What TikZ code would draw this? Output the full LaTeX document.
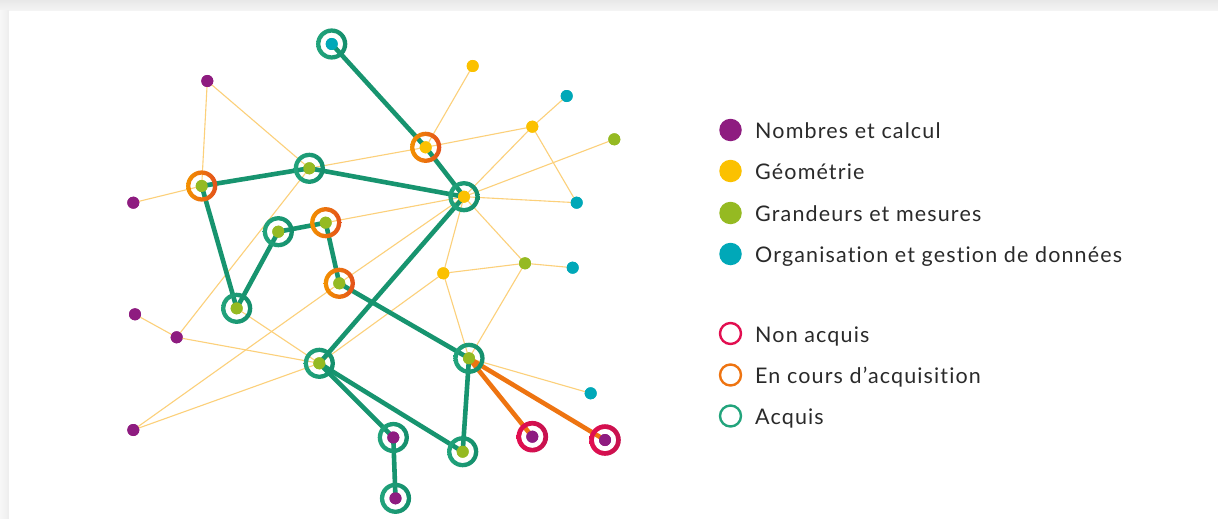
\documentclass[tikz,border=0pt]{standalone}
\usepackage{fontspec}
\setmainfont{Lato}[LetterSpace=5.3,Ligatures=NoCommon]
\definecolor{cP}{HTML}{8E1C80}
\definecolor{cY}{HTML}{FBC100}
\definecolor{cG}{HTML}{95BA22}
\definecolor{cT}{HTML}{00A8B8}
\definecolor{acqA}{HTML}{22A47C}
\definecolor{acqB}{HTML}{148E6C}
\definecolor{acqL}{HTML}{17946F}
\definecolor{oraA}{HTML}{F39100}
\definecolor{oraB}{HTML}{E3501C}
\definecolor{oraL}{HTML}{EE7411}
\definecolor{redA}{HTML}{E20E50}
\definecolor{redB}{HTML}{C5124F}
\definecolor{thinc}{HTML}{FCD07A}
\definecolor{txt}{HTML}{2A2A2A}
\begin{document}
\begin{tikzpicture}[x=1pt,y=-1pt,
  thinl/.style={draw=thinc, line width=1.1pt},
  thickl/.style={draw=acqL, line width=4.6pt},
  orangel/.style={draw=oraL, line width=4.6pt},
  dotn/.style={circle, inner sep=0pt, minimum size=12pt},
  pdot/.style={dotn, fill=cP},
  ydot/.style={dotn, fill=cY},
  gdot/.style={dotn, fill=cG},
  tdot/.style={dotn, fill=cT},
  ldot/.style={circle, inner sep=0pt, minimum size=22.5pt},
  lring/.style={circle, inner sep=0pt, minimum size=21pt, line width=2.4pt},
  ltext/.style={anchor=base west, inner sep=0pt, font=\fontsize{21.5}{24}\selectfont, text=txt}
]
\useasboundingbox (0,0) rectangle (1218,519);
\shade[top color=black!9, bottom color=black!4] (0,0) rectangle (1218,11);
\shade[left color=black!3, right color=black!7] (0,11) rectangle (9,519);
\fill[white] (9,11) rectangle (1218,519);

% nodes (dots), drawn later on top; define coordinates first
\path
  (207.3,81) node[pdot] (P1) {}
  (133.3,202.7) node[pdot] (P2) {}
  (135,314.3) node[pdot] (P3) {}
  (176.7,337.3) node[pdot] (P4) {}
  (133.3,430) node[pdot] (P5) {}
  (393.3,437.5) node[pdot] (P6) {}
  (395.5,498.3) node[pdot] (P7) {}
  (532.3,436.7) node[pdot] (P8) {}
  (605,440) node[pdot] (P9) {}
  (472.7,66) node[ydot] (Y1) {}
  (425.7,147.3) node[ydot] (Y2) {}
  (532.3,126.7) node[ydot] (Y3) {}
  (464,196.7) node[ydot] (Y4) {}
  (443.3,273.3) node[ydot] (Y5) {}
  (201.7,186) node[gdot] (G1) {}
  (309.3,168.3) node[gdot] (G2) {}
  (278.3,231.7) node[gdot] (G3) {}
  (325.7,222.7) node[gdot] (G4) {}
  (339.3,283.3) node[gdot] (G5) {}
  (236.7,308.3) node[gdot] (G6) {}
  (319.3,363.3) node[gdot] (G7) {}
  (469,358.3) node[gdot] (G8) {}
  (462.7,451.7) node[gdot] (G9) {}
  (525,263.3) node[gdot] (G10) {}
  (614.3,139.3) node[gdot] (G11) {}
  (331.7,44) node[tdot] (T1) {}
  (566.7,96) node[tdot] (T2) {}
  (576.7,202.7) node[tdot] (T3) {}
  (572.7,267.7) node[tdot] (T4) {}
  (590.7,393.3) node[tdot] (T5) {};

% thin links
\foreach \a/\b in {P1/G1,P1/G2,P2/G1,G2/Y2,Y2/Y3,Y1/Y2,Y3/T2,Y3/Y4,Y3/T3,Y4/G11,Y4/T3,Y4/G10,Y4/Y5,G4/Y4,Y4/G5,G5/P5,G2/P4,P3/P4,P4/G7,P5/G7,G6/G7,Y5/G10,Y5/G7,Y5/G8,G10/T4,G10/G8,G8/T5}
  \draw[thinl] (\a.center) -- (\b.center);

% thick links
\foreach \a/\b in {T1/Y2,Y2/Y4,G1/G2,G2/Y4,G1/G6,G6/G3,G3/G4,G4/G5,G5/G8,Y4/G7,G7/P6,G7/G9,P6/P7,G8/G9}
  \draw[thickl] (\a.center) -- (\b.center);
\foreach \a/\b in {G8/P8,G8/P9}
  \draw[orangel] (\a.center) -- (\b.center);

% rings
\foreach \n in {T1,G2,Y4,G3,G6,G7,G8,G9,P6,P7}
  \shade[left color=acqA, right color=acqB, even odd rule] (\n.center) circle[radius=15.6pt] (\n.center) circle[radius=11.4pt];
\foreach \n in {Y2,G1,G4,G5}
  \shade[left color=oraA, right color=oraB, even odd rule] (\n.center) circle[radius=15.6pt] (\n.center) circle[radius=11.4pt];
\foreach \n in {P8,P9}
  \shade[left color=redA, right color=redB, even odd rule] (\n.center) circle[radius=15.8pt] (\n.center) circle[radius=11.2pt];

% dots on top
\foreach \n in {P1,P2,P3,P4,P5,P6,P7,P8,P9}
  \fill[cP] (\n.center) circle[radius=6pt];
\foreach \n in {Y1,Y2,Y3,Y4,Y5}
  \fill[cY] (\n.center) circle[radius=6pt];
\foreach \n in {G1,G2,G3,G4,G5,G6,G7,G8,G9,G10,G11}
  \fill[cG] (\n.center) circle[radius=6pt];
\foreach \n in {T1,T2,T3,T4,T5}
  \fill[cT] (\n.center) circle[radius=6pt];

% legend
\node[ldot, fill=cP] (L1) at (730.5,130) {};
\node[ldot, fill=cY] (L2) at (730.5,171) {};
\node[ldot, fill=cG] (L3) at (730.5,213) {};
\node[ldot, fill=cT] (L4) at (730.5,254) {};
\node[lring, draw=redA] (L5) at (730.5,333.5) {};
\node[lring, draw=oraL] (L6) at (730.5,375) {};
\node[lring, draw=acqA] (L7) at (730.5,416) {};
\node[ltext] (t1) at (755,138.5) {Nombres et calcul};
\node[ltext] (t2) at (755,179.5) {Géométrie};
\node[ltext] (t3) at (755,221.5) {Grandeurs et mesures};
\node[ltext] (t4) at (755,262.5) {Organisation et gestion de données};
\node[ltext] (t5) at (755,342) {Non acquis};
\node[ltext] (t6) at (755,383.5) {En cours d’acquisition};
\node[ltext] (t7) at (755,424.5) {Acquis};
\end{tikzpicture}
\end{document}
